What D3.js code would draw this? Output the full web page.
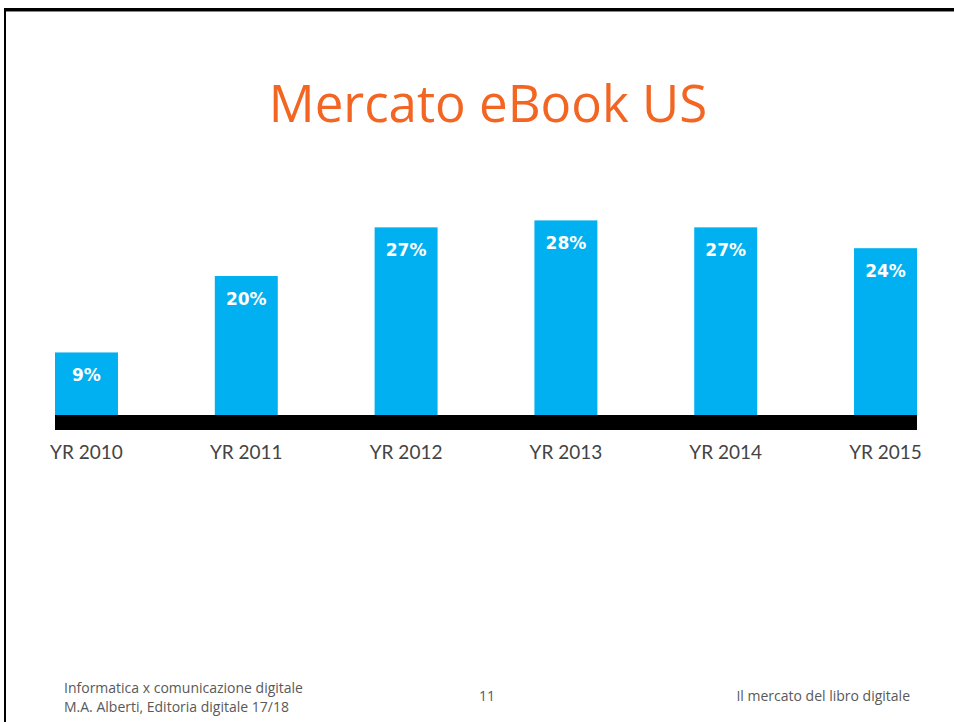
<!DOCTYPE html>
<html>
<head>
<meta charset="utf-8">
<script src="https://cdn.jsdelivr.net/npm/d3@7"></script>
<style>
  body { margin: 0; background: #fff; }
  svg { display: block; }
</style>
</head>
<body>
<div id="chart"></div>
<script>
// data
var years = ["YR 2010", "YR 2011", "YR 2012", "YR 2013", "YR 2014", "YR 2015"];
var shares = [9, 20, 27, 28, 27, 24];
var footerLeft = ["Informatica x comunicazione digitale", "M.A. Alberti, Editoria digitale 17/18"];
var pageNum = "11";
var footerRight = "Il mercato del libro digitale";

var W = 954, H = 722;
var svg = d3.select("#chart")
  .append("svg")
    .attr("width", W)
    .attr("height", H);

// slide frame (top + left edges)
svg.append("rect").attr("x", 4).attr("y", 8).attr("width", W).attr("height", 3).attr("fill", "#000");
svg.append("rect").attr("x", 4).attr("y", 11).attr("width", W).attr("height", 1).attr("fill", "#888");
svg.append("rect").attr("x", 4).attr("y", 8).attr("width", 2).attr("height", H).attr("fill", "#000");

// title
svg.append("text")
  .attr("x", 488)
  .attr("y", 122)
  .attr("text-anchor", "middle")
  .style("font-family", "'Open Sans', sans-serif")
  .style("font-size", "51px")
  .style("fill", "#f26522")
  .text("Mercato eBook US");

var baseline = 415;

var x = d3.scaleBand()
  .domain(years)
  .range([55, 917])
  .paddingInner(0.606)
  .paddingOuter(0);

var y = d3.scaleLinear()
  .domain([0, 30])
  .range([baseline, baseline - 208.5]);

// bars
svg.append("g")
  .selectAll("rect")
  .data(shares)
  .enter()
  .append("rect")
    .attr("x", function (d, i) { return x(years[i]); })
    .attr("y", function (d) { return y(d); })
    .attr("width", x.bandwidth())
    .attr("height", function (d) { return y(0) - y(d); })
    .style("fill", "#00b0f0");

// value labels
svg.append("g")
  .selectAll("text")
  .data(shares)
  .enter()
  .append("text")
    .attr("x", function (d, i) { return x(years[i]) + x.bandwidth() / 2; })
    .attr("y", function (d) { return y(d) + 29; })
    .attr("text-anchor", "middle")
    .style("font-family", "'DejaVu Sans', sans-serif")
    .style("font-weight", "bold")
    .style("font-size", "17px")
    .style("fill", "#fff")
    .text(function (d) { return d + "%"; });

// thick baseline
svg.append("rect")
  .attr("x", x.range()[0])
  .attr("y", baseline)
  .attr("width", x.range()[1] - x.range()[0])
  .attr("height", 15)
  .style("fill", "#000");

// x axis labels
var xAxis = svg.append("g")
  .attr("transform", "translate(0," + (baseline + 15) + ")")
  .call(d3.axisBottom(x).tickSize(0).tickPadding(16));
xAxis.select(".domain").remove();
xAxis.selectAll("text")
  .style("font-family", "Lato, sans-serif")
  .style("font-size", "19px")
  .style("fill", "#444");

// footer
svg.append("g")
  .selectAll("text")
  .data(footerLeft)
  .enter()
  .append("text")
    .attr("x", 64)
    .attr("y", function (d, i) { return 693 + i * 19; })
    .style("font-family", "'Open Sans', sans-serif")
    .style("font-size", "14px")
    .style("fill", "#595959")
    .text(function (d) { return d; });

svg.append("text")
  .attr("x", 487)
  .attr("y", 701)
  .attr("text-anchor", "middle")
  .style("font-family", "'Open Sans', sans-serif")
  .style("font-size", "14px")
  .style("fill", "#595959")
  .text(pageNum);

svg.append("text")
  .attr("x", 910)
  .attr("y", 701)
  .attr("text-anchor", "end")
  .style("font-family", "'Open Sans', sans-serif")
  .style("font-size", "14px")
  .style("fill", "#595959")
  .text(footerRight);
</script>
</body>
</html>
